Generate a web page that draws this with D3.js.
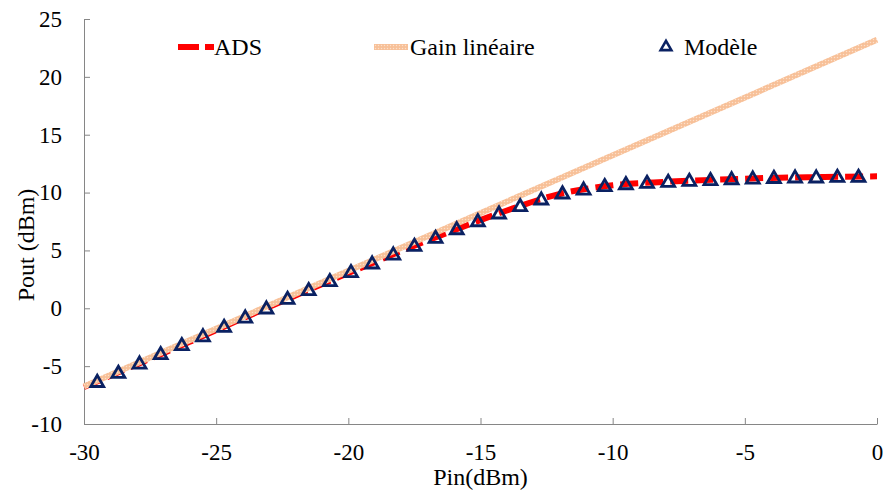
<!DOCTYPE html>
<html>
<head>
<meta charset="utf-8">
<script src="https://cdn.jsdelivr.net/npm/d3@7"></script>
<style>
body { margin: 0; background: #fff; }
text { font-family: "Liberation Serif", "Times New Roman", serif; fill: #000; }
</style>
</head>
<body>
<script>
/* data */
const pinModel = [-29.5, -28.7, -27.9, -27.1, -26.3, -25.5, -24.7, -23.9, -23.1, -22.3,
  -21.5, -20.7, -19.9, -19.1, -18.3, -17.5, -16.7, -15.9, -15.1, -14.3,
  -13.5, -12.7, -11.9, -11.1, -10.3, -9.5, -8.7, -7.9, -7.1, -6.3,
  -5.5, -4.7, -3.9, -3.1, -2.3, -1.5, -0.7];
const poutModel = [-6.35, -5.57, -4.76, -3.95, -3.17, -2.40, -1.59, -0.78, 0.0, 0.83,
  1.58, 2.36, 3.14, 3.89, 4.66, 5.41, 6.10, 6.85, 7.54, 8.21,
  8.84, 9.42, 9.94, 10.28, 10.57, 10.74, 10.85, 10.94, 11.03, 11.09,
  11.17, 11.23, 11.28, 11.32, 11.32, 11.37, 11.37];
const pinAds = [-30, -28, -26, -24, -22, -20, -18, -16, -14, -12, -10, -8, -6, -4, -2, 0];
const poutAds = [-6.8, -4.85, -2.9, -0.88, 1.1, 3.04, 4.95, 6.75, 8.45, 9.88, 10.63, 10.93, 11.12, 11.27, 11.34, 11.4];
const pinGain = [-30, 0];
const poutGain = [-6.75, 23.2];
const xTicks = [-30, -25, -20, -15, -10, -5, 0];
const yTicks = [-10, -5, 0, 5, 10, 15, 20, 25];
const seriesNames = ['ADS', 'Gain linéaire', 'Modèle'];

/*canvas size*/
const width = 885;
const height = 494;
const padding = { top: 19, bottom: 70, left: 84, right: 8 };

const svg = d3.select('body').append('svg')
  .attr('width', width)
  .attr('height', height);

/*textured fill for the linear gain line*/
const pat = svg.append('defs').append('pattern')
  .attr('id', 'peachTex').attr('patternUnits', 'userSpaceOnUse')
  .attr('width', 3).attr('height', 3);
pat.append('rect').attr('width', 3).attr('height', 3).attr('fill', '#F8C49E');
pat.append('rect').attr('width', 1).attr('height', 1).attr('fill', '#FCE0CB');
pat.append('rect').attr('x', 1.5).attr('y', 1.5).attr('width', 1).attr('height', 1).attr('fill', '#F4B487');

const xScale = d3.scaleLinear()
  .domain([-30, 0])
  .range([padding.left, width - padding.right]);
const yScale = d3.scaleLinear()
  .domain([-10, 25])
  .range([height - padding.bottom, padding.top]);

const axisColor = '#868686';

/*x axis, ticks pointing inward*/
const xAxis = svg.append('g')
  .attr('transform', `translate(0,${yScale(-10)})`)
  .call(d3.axisBottom(xScale).tickValues(xTicks).tickSize(-6).tickSizeOuter(0).tickPadding(20));
/*y axis*/
const yAxis = svg.append('g')
  .attr('transform', `translate(${xScale(-30)},0)`)
  .call(d3.axisLeft(yScale).tickValues(yTicks).tickSize(-6).tickSizeOuter(0).tickPadding(22));

[xAxis, yAxis].forEach(a => {
  a.attr('font-family', null);
  a.select('.domain').attr('stroke', axisColor);
  a.selectAll('.tick line').attr('stroke', axisColor);
  a.selectAll('.tick text')
    .attr('font-size', 23)
    .attr('fill', '#000')
    .text(d => String(d)); // plain hyphen like the original
});

/*lines*/
const line = d3.line()
  .x(d => xScale(d[0]))
  .y(d => yScale(d[1]))
  .curve(d3.curveMonotoneX);

const adsData = pinAds.map((p, i) => [p, poutAds[i]]);
const gainData = pinGain.map((p, i) => [p, poutGain[i]]);
const modelData = pinModel.map((p, i) => [p, poutModel[i]]);

const red = '#FF0000';
const navy = '#0A2162';

svg.append('path').datum(adsData)
  .attr('fill', 'none').attr('stroke', red).attr('stroke-width', 6)
  .attr('stroke-dasharray', '18,7')
  .attr('d', line);

svg.append('path').datum(gainData)
  .attr('fill', 'none').attr('stroke', 'url(#peachTex)').attr('stroke-width', 6)
  .attr('d', line);

const tri = d3.symbol().type(d3.symbolTriangle).size(72);
svg.append('g').selectAll('path').data(modelData).enter().append('path')
  .attr('d', tri)
  .attr('fill', 'none')
  .attr('stroke', navy)
  .attr('stroke-width', 2.8)
  .attr('transform', d => `translate(${xScale(d[0])},${yScale(d[1]) + 1})`);

/*legend*/
const legY = 47;
const leg = svg.append('g');
leg.append('line').attr('x1', 178).attr('x2', 214).attr('y1', legY).attr('y2', legY)
  .attr('stroke', red).attr('stroke-width', 6).attr('stroke-dasharray', '21,6');
leg.append('text').attr('x', 214).attr('y', legY + 8).attr('font-size', 24).text(seriesNames[0]);
leg.append('line').attr('x1', 374).attr('x2', 408).attr('y1', legY).attr('y2', legY)
  .attr('stroke', 'url(#peachTex)').attr('stroke-width', 6);
leg.append('text').attr('x', 410).attr('y', legY + 8).attr('font-size', 24).text(seriesNames[1]);
leg.append('path').attr('d', d3.symbol().type(d3.symbolTriangle).size(50)).attr('fill', 'none')
  .attr('stroke', navy).attr('stroke-width', 2.6)
  .attr('transform', `translate(666,${legY})`);
leg.append('text').attr('x', 684).attr('y', legY + 8).attr('font-size', 24).text(seriesNames[2]);

/*axis titles*/
svg.append('text')
  .attr('x', (xScale(-30) + xScale(0)) / 2)
  .attr('y', 485)
  .attr('text-anchor', 'middle')
  .attr('font-size', 24)
  .text('Pin(dBm)');
svg.append('text')
  .attr('transform', 'translate(34,245) rotate(-90)')
  .attr('text-anchor', 'middle')
  .attr('font-size', 24)
  .text('Pout (dBm)');
</script>
</body>
</html>
